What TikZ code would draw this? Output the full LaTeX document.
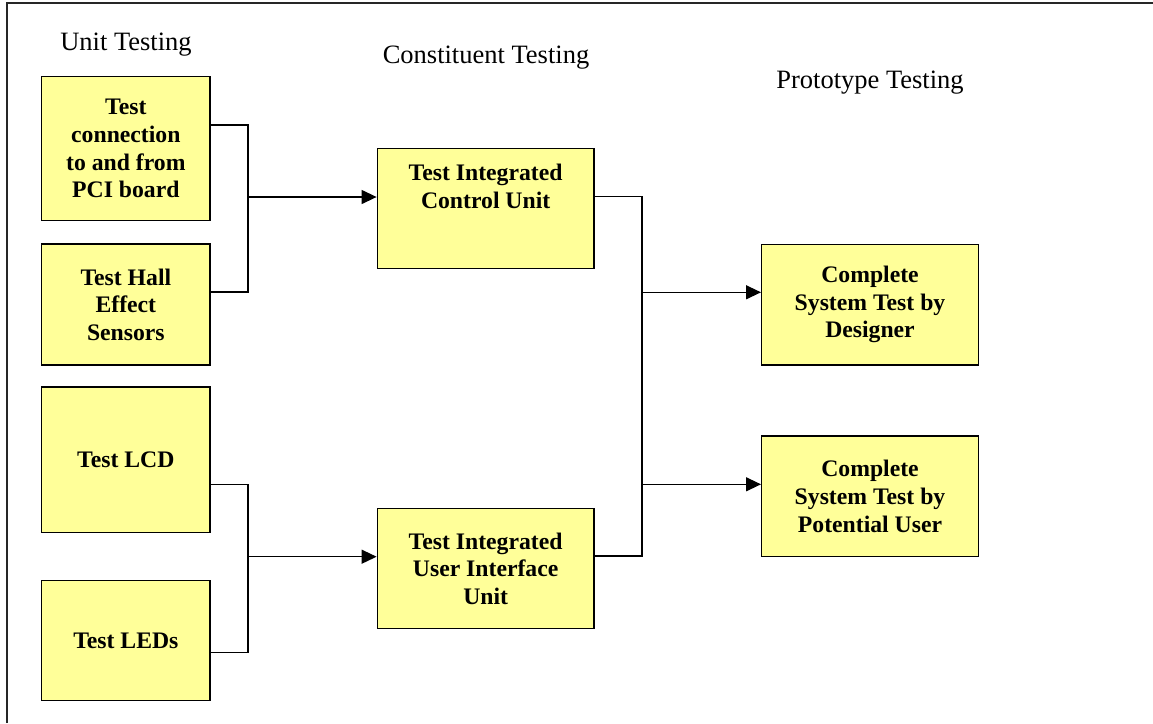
\documentclass[tikz,border=0pt]{standalone}
\usepackage{fontspec}
\setmainfont{Liberation Serif}
\usetikzlibrary{arrows.meta}
\definecolor{boxyellow}{RGB}{255,255,153}
\newcommand{\boxfont}{\fontsize{23.7}{27.6}\selectfont\bfseries}
\newcommand{\headfont}{\fontsize{26.5}{31}\selectfont}
\tikzset{
  box/.style={draw=black, line width=1.4pt, fill=boxyellow, align=center,
    font=\boxfont, inner sep=0pt, minimum width=#1},
  box/.default=168.3pt,
  heading/.style={anchor=base, font=\headfont, inner sep=0pt},
  wire/.style={draw=black, line width=1.3pt},
  arrowline/.style={wire, -{Triangle[length=15pt,width=14pt]}}
}
\begin{document}
\begin{tikzpicture}[x=1pt,y=-1pt]
\useasboundingbox (0,0) rectangle (1153,723);
% frame
\draw[line width=1.6pt, black!85] (7,723) -- (7,3) -- (1153,3);
% headings
\node[heading] (h1) at (126,50) {Unit Testing};
\node[heading] (h2) at (486,63) {Constituent Testing};
\node[heading] (h3) at (870,88) {Prototype Testing};
% unit boxes
\node[box, minimum height=144pt] (A) at (125.85,148.7) {Test\\connection\\to and from\\PCI board};
\node[box, minimum height=121pt] (B) at (125.85,304.5) {Test Hall\\Effect\\Sensors};
\node[box, minimum height=145.7pt] (C) at (125.85,459.85) {Test LCD};
\node[box, minimum height=120pt] (D) at (125.85,640.7) {Test LEDs};
% constituent boxes
\node[box=216.7pt, minimum height=119.6pt,
  label={[anchor=north, yshift=-13pt, align=center, font=\boxfont]north:Test Integrated\\Control Unit}]
  (E) at (485.65,208.5) {};
\node[box=216.7pt, minimum height=119.6pt] (F) at (485.65,568.5) {Test Integrated\\User Interface\\Unit};
% prototype boxes
\node[box=216.6pt, minimum height=120.7pt] (G) at (870,304.65) {Complete\\System Test by\\Designer};
\node[box=216.6pt, minimum height=120.7pt] (H) at (870,496.35) {Complete\\System Test by\\Potential User};
% junctions
\coordinate (j1) at (248,197);
\coordinate (j2) at (248,556.7);
\coordinate (j3) at (642,292.3);
\coordinate (j4) at (642,484.3);
% connectors
\draw[wire] ([yshift=23.7pt]A.east) -| (j1) |- ([yshift=12.5pt]B.east);
\draw[arrowline] (j1) -- (E.west |- j1);
\draw[wire] ([yshift=-24.5pt]C.east) -| (j2) |- ([yshift=-11.6pt]D.east);
\draw[arrowline] (j2) -- (F.west |- j2);
\draw[wire] ([yshift=11.8pt]E.east) -| (j3) -- (j4) |- ([yshift=12.5pt]F.east);
\draw[arrowline] (j3) -- (G.west |- j3);
\draw[arrowline] (j4) -- (H.west |- j4);
\end{tikzpicture}
\end{document}
